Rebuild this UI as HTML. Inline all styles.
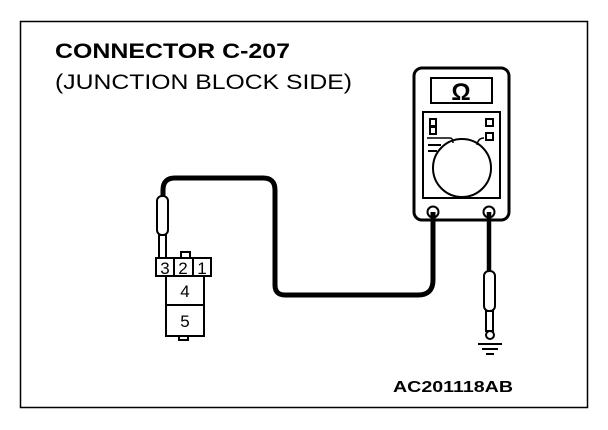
<!DOCTYPE html><html><head><style>body{margin:0;background:#fff}svg{display:block}text{font-family:"Liberation Sans",Arial,sans-serif;fill:#000}</style></head><body>
<svg width="608" height="430" viewBox="0 0 608 430" xmlns="http://www.w3.org/2000/svg">
<rect x="20.5" y="21.5" width="567" height="386" fill="none" stroke="#000" stroke-width="1.5"/>
<text x="55" y="58" font-size="21" font-weight="bold" textLength="235" lengthAdjust="spacingAndGlyphs">CONNECTOR C-207</text>
<text x="55" y="89" font-size="21" textLength="297" lengthAdjust="spacingAndGlyphs">(JUNCTION BLOCK SIDE)</text>
<text x="393" y="392" font-size="16" font-weight="bold" textLength="120" lengthAdjust="spacingAndGlyphs">AC201118AB</text>
<g fill="none" stroke="#000">
<rect x="414" y="68" width="95" height="152" rx="8" stroke-width="3"/>
<rect x="431" y="78" width="61" height="25" stroke-width="2"/>
<rect x="423" y="112" width="77" height="86" stroke-width="2"/>
<circle cx="462" cy="168" r="29" stroke-width="2"/>
<rect x="430" y="119" width="6" height="7" stroke-width="2"/><rect x="430" y="127" width="6" height="7" stroke-width="2"/>
<rect x="486" y="119" width="7" height="7" stroke-width="2"/><rect x="486" y="133" width="7" height="7" stroke-width="2"/>
<path d="M427 138 H450 Q453 138 453 143 M477 145 Q478 138 484 138" stroke-width="1.5"/>
<path d="M428 145 H441 M428 151 H437" stroke-width="2"/>
<circle cx="433" cy="212" r="5.5" stroke-width="2"/><circle cx="489" cy="212" r="5.5" stroke-width="2"/>
<path d="M433 212 V280 Q433 295 418 295 H285 Q275 295 275 285 V190 Q275 178 263 178 H175 Q163 178 163 190 V197" stroke-width="5"/>
<path d="M489 212 V272" stroke-width="4.5"/>
</g>
<text x="461" y="100" font-size="24" font-weight="bold" text-anchor="middle">Ω</text>
<g fill="#fff" stroke="#000" stroke-width="2">
<rect x="157" y="196" width="11" height="39" rx="5"/>
<rect x="159" y="235" width="7" height="24"/>
<rect x="181" y="252" width="9" height="6"/>
<rect x="179" y="335" width="9" height="5"/>
<rect x="166" y="276" width="38" height="60"/>
<line x1="166" y1="305" x2="204" y2="305"/>
<rect x="156" y="258" width="18" height="18"/><rect x="174" y="258" width="19" height="18"/><rect x="193" y="258" width="18" height="18"/>
<rect x="484" y="271" width="11" height="40" rx="5"/>
<rect x="486" y="311" width="7" height="20"/>
<circle cx="490" cy="335" r="4"/>
</g>
<path d="M478 344 H502 M482 349 H498 M486 354 H494" stroke="#000" stroke-width="2"/>
<g font-size="17" text-anchor="middle"><text x="165" y="274">3</text><text x="183" y="274">2</text><text x="202" y="274">1</text><text x="185" y="297">4</text><text x="185" y="327">5</text></g>
</svg></body></html>
